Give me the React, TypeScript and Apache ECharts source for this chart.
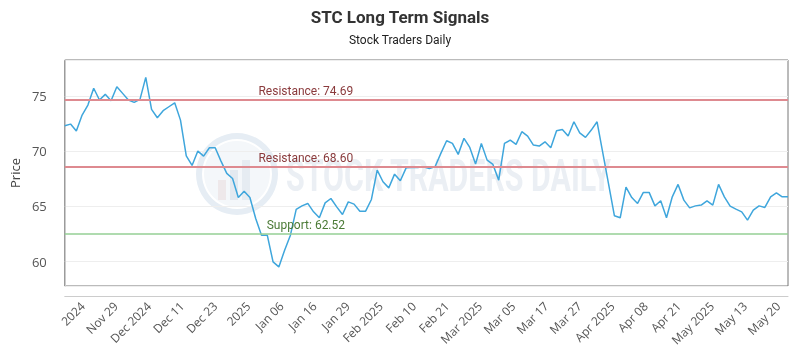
import React, { useEffect, useRef } from "react";
import * as echarts from "echarts";

const prices = [
  72.3, 72.45, 71.82, 73.27, 74.17, 75.69, 74.63, 75.14, 74.56, 75.83,
  75.23, 74.63, 74.42, 74.69, 76.68, 73.78, 73.02, 73.66, 74.02, 74.38,
  72.81, 69.58, 68.71, 70.01, 69.55, 70.31, 70.31, 69.1, 67.99, 67.53,
  65.81, 66.38, 65.81, 63.91, 62.4, 62.4, 59.98, 59.53, 61.04, 62.4,
  64.73, 65.05, 65.27, 64.51, 63.97, 65.32, 65.72, 64.96, 64.27, 65.41,
  65.21, 64.57, 64.57, 65.63, 68.29, 67.23, 66.68, 67.92, 67.32, 68.49,
  68.53, 68.53, 68.59, 68.44, 68.59, 69.8, 70.94, 70.7, 69.71, 71.16,
  70.34, 68.83, 70.7, 69.19, 68.8, 67.38, 70.7, 71.0, 70.61, 71.76,
  71.37, 70.55, 70.46, 70.85, 70.31, 71.85, 71.97, 71.37, 72.66, 71.66,
  71.25, 71.91, 72.66, 69.83, 66.99, 64.15, 63.97, 66.75, 65.8, 65.27,
  66.27, 66.27, 65.05, 65.51, 63.97, 65.87, 66.99, 65.57, 64.87, 65.05,
  65.12, 65.51, 65.12, 66.99, 65.87, 65.03, 64.75, 64.51, 63.76, 64.66,
  65.05, 64.91, 65.87, 66.23, 65.87, 65.87,
];

const xLabels = [
  "2024", "Nov 29", "Dec 2024", "Dec 11", "Dec 23", "2025", "Jan 06", "Jan 16",
  "Jan 29", "Feb 2025", "Feb 10", "Feb 21", "Mar 2025", "Mar 05", "Mar 17",
  "Mar 27", "Apr 2025", "Apr 08", "Apr 21", "May 2025", "May 13", "May 20",
];

const resistanceLevels = [74.69, 68.6];
const supportLevels = [62.52];
const yMin = 57.8;
const yMax = 78.25;

export default function App() {
  const ref = useRef<HTMLDivElement>(null);

  useEffect(() => {
    const chart = echarts.init(ref.current!, null, { renderer: "svg" });
    const last = prices.length - 1;
    const labelX = last / 3;

    chart.setOption({
      animation: false,
      title: {
        text: "STC Long Term Signals",
        subtext: "Stock Traders Daily",
        left: "center",
        top: 3,
        itemGap: 9,
        textStyle: { fontFamily: "Roboto", fontWeight: "bold", fontSize: 17, color: "#333" },
        subtextStyle: { fontFamily: "Roboto", fontSize: 12, color: "#222" },
      },
      graphic: [
        {
          type: "group",
          silent: true,
          z: 0,
          children: [
            { type: "ring", shape: { cx: 237, cy: 174, r: 41, r0: 35 }, style: { fill: "#e6edf4" } },
            { type: "circle", shape: { cx: 237, cy: 174, r: 33 }, style: { fill: "#f4f7fa" } },
            { type: "rect", shape: { x: 218, y: 180, width: 8, height: 20 }, style: { fill: "#eee8ea" } },
            { type: "rect", shape: { x: 230, y: 170, width: 8, height: 30 }, style: { fill: "#e3e9f0" } },
            { type: "rect", shape: { x: 242, y: 160, width: 8, height: 40 }, style: { fill: "#e6ecf2" } },
            {
              type: "text",
              x: 286,
              y: 176,
              scaleX: 0.69,
              style: {
                text: "STOCK TRADERS DAILY",
                fontFamily: "Roboto",
                fontWeight: "bold",
                fontSize: 44,
                fill: "#ebeff4",
                verticalAlign: "middle",
              },
            },
          ],
        },
      ],
      grid: {
        left: 60,
        right: 12,
        top: 60,
        bottom: 64,
        show: true,
        borderColor: "#777",
        borderWidth: 1,
        backgroundColor: "transparent",
      },
      xAxis: [
        { type: "value", min: 0, max: last, show: false },
        {
          type: "value",
          min: -0.54,
          max: 21.3,
          position: "bottom",
          offset: 10,
          axisLine: { show: true, lineStyle: { color: "#ccc" } },
          axisTick: { show: false },
          splitLine: { show: false },
          axisLabel: {
            customValues: xLabels.map((_, i) => i),
            rotate: 45,
            margin: 8,
            fontSize: 12,
            fontFamily: "Open Sans",
            color: "#555",
            formatter: (v: number) => xLabels[Math.round(v)] ?? "",
          },
        },
      ],
      yAxis: {
        type: "value",
        min: yMin,
        max: yMax,
        offset: 10,
        name: "Price",
        nameLocation: "middle",
        nameGap: 31,
        nameTextStyle: { fontSize: 13, fontFamily: "Open Sans", color: "#444" },
        axisLine: { show: true, lineStyle: { color: "#ccc" } },
        axisTick: { show: false },
        splitLine: { show: true, lineStyle: { color: "#eee" } },
        axisLabel: {
          margin: 8,
          fontSize: 13,
          fontFamily: "Open Sans",
          color: "#555",
          showMinLabel: false,
          showMaxLabel: false,
          formatter: (v: number) => (Math.abs(v % 5) < 1e-9 ? String(v) : ""),
        },
      },
      series: [
        {
          type: "line",
          xAxisIndex: 0,
          data: prices.map((v, i) => [i, v]),
          showSymbol: false,
          z: 3,
          lineStyle: { color: "#3fa6dc", width: 1.5 },
          itemStyle: { color: "#3fa6dc" },
          markLine: {
            silent: true,
            symbol: ["none", "none"],
            label: { show: false },
            data: [
              ...resistanceLevels.map((v) => ({
                yAxis: v,
                lineStyle: { color: "#de8a90", width: 2, type: "solid" },
              })),
              ...supportLevels.map((v) => ({
                yAxis: v,
                lineStyle: { color: "#95cf95", width: 1.5, type: "solid" },
              })),
            ],
          },
          markPoint: {
            silent: true,
            symbol: "circle",
            symbolSize: 1,
            itemStyle: { color: "rgba(0,0,0,0)" },
            data: [
              ...resistanceLevels.map((v) => ({
                coord: [labelX, v],
                label: {
                  show: true,
                  position: "top",
                  distance: 2,
                  formatter: `Resistance: ${v.toFixed(2)}`,
                  color: "#8a3a3c",
                  fontSize: 12,
                  fontFamily: "Roboto",
                },
              })),
              ...supportLevels.map((v) => ({
                coord: [labelX, v],
                label: {
                  show: true,
                  position: "top",
                  distance: 2,
                  formatter: `Support: ${v.toFixed(2)}`,
                  color: "#4a7a35",
                  fontSize: 12,
                  fontFamily: "Roboto",
                },
              })),
            ],
          },
        },
      ],
    });

    return () => chart.dispose();
  }, []);

  return (
    <div
      ref={ref}
      style={{ position: "fixed", left: 0, top: 0, width: 800, height: 350 }}
    />
  );
}
